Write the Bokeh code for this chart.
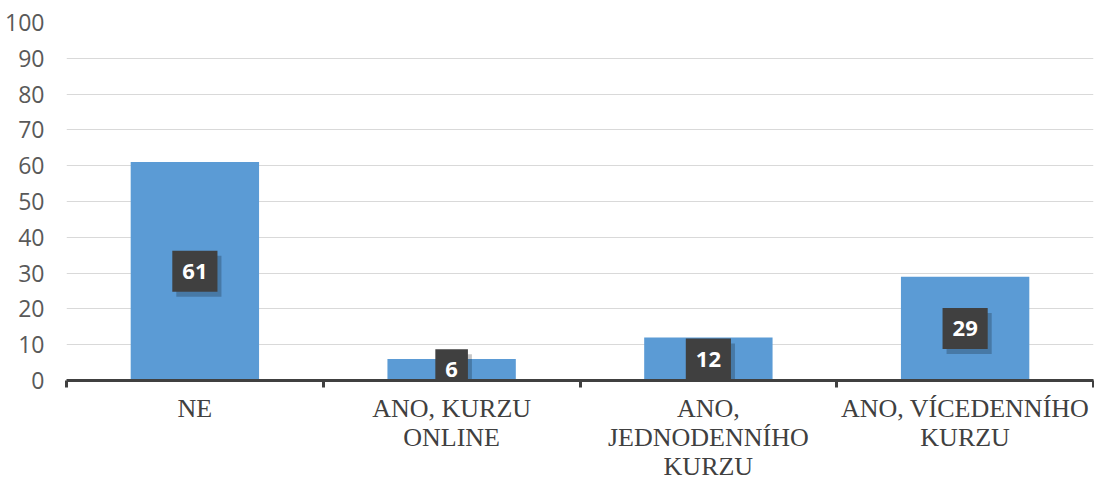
from bokeh.plotting import figure
from bokeh.models import ColumnDataSource, FixedTicker, Range1d, LinearAxis
from bokeh.core.properties import value
from bokeh.embed import file_html
from bokeh.resources import INLINE

categories = ["NE", "ANO, KURZU\nONLINE", "ANO,\nJEDNODENNÍHO\nKURZU", "ANO, VÍCEDENNÍHO\nKURZU"]
values = [61, 6, 12, 29]
y_ticks = [0, 10, 20, 30, 40, 50, 60, 70, 80, 90, 100]

n = len(categories)
centers = [i + 0.5 for i in range(n)]
src = ColumnDataSource(dict(
    x=centers,
    top=values,
    mid=[v / 2 for v in values],
    lab=[str(v) for v in values],
))

p = figure(width=1094, height=483, output_backend="svg", toolbar_location=None,
           x_range=Range1d(0, n), y_range=Range1d(0, 100),
           min_border_left=66, min_border_right=1, min_border_top=22, min_border_bottom=103,
           x_axis_location=None)
p.outline_line_color = None
p.background_fill_color = "white"

p.vbar(x="x", top="top", width=0.5, bottom=0, source=src, color="#5b9bd5", line_color=None)

pad = dict(left=10, right=10, top=13, bottom=13)
# shadow for data labels
p.text(x="x", y="mid", text="lab", source=src, x_offset=4, y_offset=5,
       text_align="center", text_baseline="middle",
       text_font=value("Open Sans"), text_font_style="bold", text_font_size="22px",
       text_alpha=0, background_fill_color="#000000", background_fill_alpha=0.22, padding=pad)
p.text(x="x", y="mid", text="lab", source=src,
       text_align="center", text_baseline="middle", text_color="white",
       text_font=value("Open Sans"), text_font_style="bold", text_font_size="22px",
       background_fill_color="#404040", padding=pad)

# y axis
p.yaxis.ticker = FixedTicker(ticks=y_ticks)
p.yaxis.axis_line_color = None
p.yaxis.major_tick_line_color = None
p.yaxis.major_tick_out = 0
p.yaxis.major_tick_in = 0
p.yaxis.minor_tick_line_color = None
p.yaxis.major_label_text_font = "Open Sans"
p.yaxis.major_label_text_font_size = "23px"
p.yaxis.major_label_text_color = "#595959"
p.yaxis.major_label_standoff = 22
p.ygrid.grid_line_color = "#d9d9d9"
p.ygrid.ticker = FixedTicker(ticks=y_ticks[1:])
p.xgrid.grid_line_color = None

# x axis
xa = LinearAxis(ticker=FixedTicker(ticks=centers, minor_ticks=list(range(n + 1))))
xa.major_label_overrides = {c: lab for c, lab in zip(centers, categories)}
xa.axis_line_color = "#404040"
xa.axis_line_width = 3
xa.major_tick_line_color = None
xa.major_tick_out = 0
xa.major_tick_in = 0
xa.minor_tick_line_color = "#404040"
xa.minor_tick_line_width = 3
xa.minor_tick_out = 7
xa.minor_tick_in = 0
xa.major_label_text_font = "Liberation Serif"
xa.major_label_text_font_size = "26px"
xa.major_label_text_color = "#404040"
xa.major_label_standoff = 6
xa.major_label_text_line_height = 1.0
p.add_layout(xa, "below")

open("out.html", "w").write(file_html(p, INLINE))
